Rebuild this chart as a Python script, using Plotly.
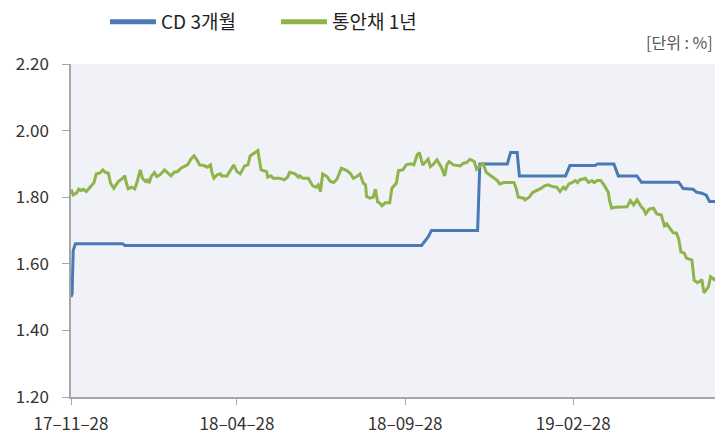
import pandas as pd
import plotly.graph_objects as go

START = "2017-11-28"
END = "2019-07-07"

# CD 3개월 (days since 2017-11-28, %)
cd_days = [0, 1, 2, 4, 47, 49, 319, 325, 328, 370, 372, 397, 400, 406, 408, 450, 454, 477, 479,
           494, 498, 515, 517, 519, 553, 557, 566, 569, 574, 578, 581, 586]
cd_vals = [1.500, 1.510, 1.640, 1.660, 1.660, 1.655, 1.655, 1.681, 1.700, 1.700, 1.900, 1.900,
           1.934, 1.934, 1.864, 1.864, 1.895, 1.895, 1.900, 1.900, 1.864, 1.864, 1.854, 1.845,
           1.845, 1.826, 1.824, 1.815, 1.812, 1.806, 1.787, 1.787]

# 통안채 1년 (days since 2017-11-28, %)
msb_days = [0, 2, 5, 7, 9, 11, 14, 18, 21, 23, 26, 29, 31, 34, 36, 39, 43, 46, 49, 50, 52, 55, 58,
            60, 63, 65, 68, 70, 71, 73, 76, 78, 81, 85, 88, 91, 94, 97, 100, 104, 106, 109, 112,
            115, 117, 121, 124, 127, 128, 130, 133, 136, 137, 142, 145, 148, 151, 154, 158, 161,
            163, 167, 170, 173, 175, 178, 179, 182, 184, 190, 194, 197, 199, 204, 207, 208, 211,
            216, 220, 223, 225, 227, 229, 233, 236, 239, 242, 246, 251, 254, 257, 260, 263, 266,
            268, 269, 272, 275, 277, 279, 281, 283, 286, 290, 292, 296, 298, 302, 305, 309, 312,
            315, 317, 320, 323, 325, 327, 330, 333, 337, 340, 342, 344, 348, 354, 357, 360, 363,
            367, 369, 373, 375, 378, 381, 385, 388, 390, 394, 403, 405, 407, 412, 413, 417, 420,
            424, 428, 431, 434, 438, 442, 445, 448, 450, 453, 456, 459, 461, 463, 465, 468, 471,
            474, 476, 479, 482, 485, 489, 490, 492, 495, 506, 509, 512, 515, 519, 521, 523, 526,
            530, 533, 537, 540, 542, 545, 548, 551, 553, 555, 558, 560, 565, 567, 570, 573, 574,
            576, 578, 580, 582, 585, 586]
msb_vals = [1.824, 1.807, 1.812, 1.824, 1.820, 1.824, 1.817, 1.832, 1.844, 1.870, 1.872, 1.882,
            1.875, 1.872, 1.842, 1.827, 1.847, 1.854, 1.864, 1.847, 1.825, 1.830, 1.825, 1.844,
            1.882, 1.857, 1.847, 1.854, 1.842, 1.862, 1.874, 1.862, 1.867, 1.882, 1.872, 1.864,
            1.875, 1.877, 1.887, 1.894, 1.897, 1.914, 1.924, 1.910, 1.897, 1.895, 1.890, 1.897,
            1.877, 1.857, 1.867, 1.870, 1.864, 1.864, 1.880, 1.897, 1.877, 1.870, 1.894, 1.897,
            1.924, 1.932, 1.940, 1.882, 1.880, 1.877, 1.860, 1.864, 1.857, 1.857, 1.852, 1.860,
            1.875, 1.870, 1.860, 1.864, 1.857, 1.857, 1.834, 1.830, 1.837, 1.817, 1.870, 1.862,
            1.847, 1.844, 1.854, 1.887, 1.880, 1.872, 1.857, 1.862, 1.870, 1.842, 1.837, 1.802,
            1.797, 1.800, 1.824, 1.786, 1.782, 1.774, 1.783, 1.783, 1.827, 1.842, 1.880, 1.882,
            1.897, 1.900, 1.897, 1.927, 1.934, 1.897, 1.907, 1.914, 1.892, 1.900, 1.912, 1.890,
            1.864, 1.897, 1.907, 1.897, 1.894, 1.902, 1.904, 1.914, 1.907, 1.884, 1.897, 1.900,
            1.874, 1.867, 1.857, 1.850, 1.840, 1.844, 1.844, 1.827, 1.800, 1.797, 1.792, 1.800,
            1.814, 1.820, 1.827, 1.834, 1.837, 1.832, 1.830, 1.817, 1.830, 1.824, 1.840, 1.844,
            1.850, 1.844, 1.852, 1.854, 1.857, 1.844, 1.850, 1.844, 1.850, 1.850, 1.837, 1.814,
            1.790, 1.767, 1.770, 1.771, 1.790, 1.777, 1.792, 1.771, 1.764, 1.750, 1.764, 1.767,
            1.750, 1.747, 1.714, 1.720, 1.707, 1.693, 1.692, 1.674, 1.636, 1.632, 1.617, 1.611,
            1.551, 1.543, 1.549, 1.553, 1.513, 1.523, 1.531, 1.561, 1.553, 1.559]

tick_dates = ["2017-11-28", "2018-04-28", "2018-09-28", "2019-02-28"]
tick_labels = ["17–11–28", "18–04–28", "18–09–28", "19–02–28"]
y_ticks = [1.20, 1.40, 1.60, 1.80, 2.00, 2.20]

series_names = ["CD 3개월", "통안채 1년"]
BLUE = "#4a7ab6"
GREEN = "#8fb44a"
FONT = "Noto Sans CJK KR"

start = pd.Timestamp(START)
cd_x = start + pd.to_timedelta(cd_days, unit="D")
msb_x = start + pd.to_timedelta(msb_days, unit="D")

fig = go.Figure()
fig.add_trace(go.Scatter(x=cd_x, y=cd_vals, mode="lines", name=series_names[0],
                         line=dict(color=BLUE, width=3), showlegend=False))
fig.add_trace(go.Scatter(x=msb_x, y=msb_vals, mode="lines", name=series_names[1],
                         line=dict(color=GREEN, width=3), showlegend=False))
# legend entries (thicker sample lines)
fig.add_trace(go.Scatter(x=[None], y=[None], mode="lines", name=series_names[0],
                         line=dict(color=BLUE, width=5)))
fig.add_trace(go.Scatter(x=[None], y=[None], mode="lines", name=series_names[1],
                         line=dict(color=GREEN, width=5)))

# page body has an 8px margin, so the figure is drawn 8px smaller and offset
fig.update_layout(
    width=718, height=431,
    margin=dict(l=63, r=11, t=56, b=42, autoexpand=False),
    paper_bgcolor="white",
    plot_bgcolor="#f0f2f8",
    font=dict(family=FONT, color="#333333", size=17),
    legend=dict(orientation="h", xref="container", yref="container",
                x=0.135, y=0.968, xanchor="left", yanchor="middle",
                font=dict(size=19, color="#231f20"), itemwidth=46, entrywidth=110,
                bgcolor="rgba(0,0,0,0)"),
    xaxis=dict(type="date", range=[START, END], tickvals=tick_dates, ticktext=tick_labels,
               showline=True, linecolor="#a6a6a6", linewidth=1.5, ticks="outside",
               ticklen=6, tickcolor="#a6a6a6", showgrid=False, zeroline=False,
               automargin=False,
               ticklabelstandoff=5, tickfont=dict(size=17, color="#333333")),
    yaxis=dict(range=[1.20, 2.20], tickvals=y_ticks, tickformat=".2f",
               showline=True, linecolor="#a6a6a6", linewidth=1.5, ticks="outside",
               ticklen=7, tickcolor="#a6a6a6", showgrid=False, zeroline=False,
               automargin=False,
               ticklabelstandoff=10, tickfont=dict(size=17, color="#333333")),
    annotations=[dict(text="[단위 : %]", xref="paper", yref="paper", x=1, y=1,
                      xanchor="right", yanchor="bottom", yshift=8, showarrow=False,
                      font=dict(size=16, color="#555555"))],
)

fig.write_html("out.html")
